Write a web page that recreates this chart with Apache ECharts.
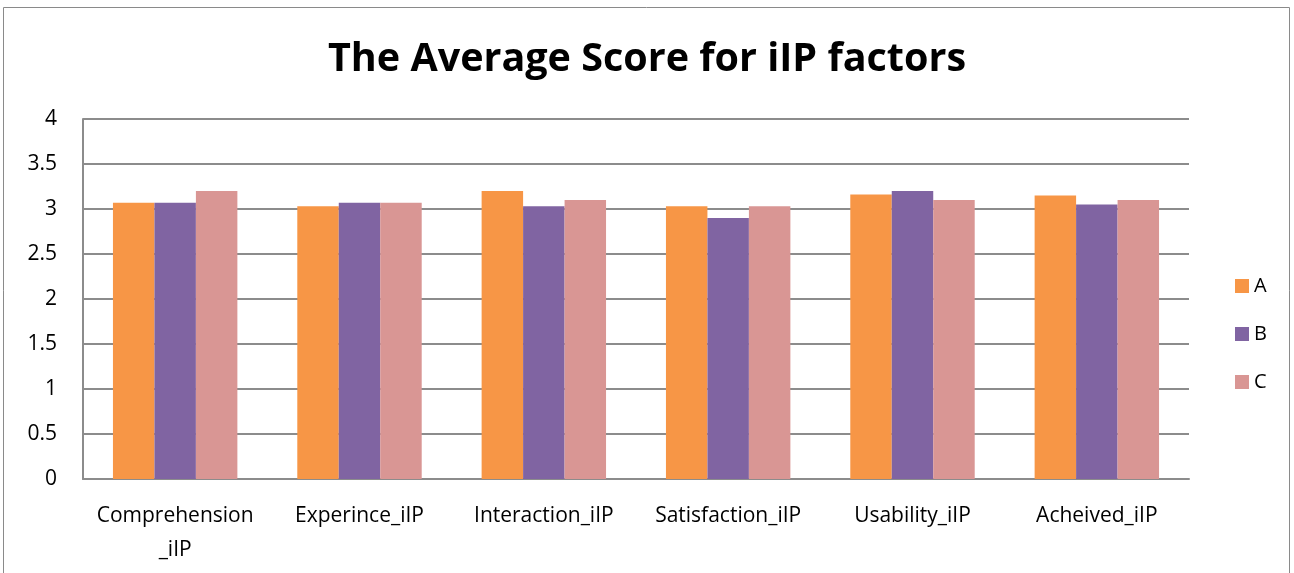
<!DOCTYPE html>
<html>
<head>
<meta charset="utf-8">
<script src="https://cdn.jsdelivr.net/npm/echarts@6/dist/echarts.min.js"></script>
<style>
  html, body { margin: 0; padding: 0; background: #fff; }
  #chart { width: 1294px; height: 573px; }
</style>
</head>
<body>
<div id="chart"></div>
<script>
// Average score per iIP factor for three groups
const categories = ['Comprehension\n_iIP', 'Experince_iIP', 'Interaction_iIP', 'Satisfaction_iIP', 'Usability_iIP', 'Acheived_iIP'];
const seriesA = [3.07, 3.03, 3.2, 3.03, 3.16, 3.15];
const seriesB = [3.07, 3.07, 3.03, 2.9, 3.2, 3.05];
const seriesC = [3.2, 3.07, 3.1, 3.03, 3.1, 3.1];
const yTicks = { min: 0, max: 4, interval: 0.5 };

const font = 'Open Sans, Noto Sans, sans-serif';
const chart = echarts.init(document.getElementById('chart'));

const barSeries = (name, data, color) => ({
  name, type: 'bar', data,
  itemStyle: { color },
  barGap: '0%', barCategoryGap: '32.5%'
});

chart.setOption({
  animation: false,
  backgroundColor: '#fff',
  graphic: [{
    type: 'rect',
    shape: { x: 3.5, y: 7.5, width: 1286, height: 580 },
    style: { fill: 'none', stroke: '#8a8a8a', lineWidth: 1 },
    silent: true
  }],
  title: {
    text: 'The Average Score for iIP factors',
    left: 'center', top: 35,
    textStyle: { fontFamily: font, fontWeight: 'bold', fontSize: 39.5, color: '#000' }
  },
  legend: {
    orient: 'vertical', left: 1230, top: 271,
    itemWidth: 14, itemHeight: 14, itemGap: 28,
    icon: 'rect',
    textStyle: { fontFamily: font, fontSize: 20, color: '#000', padding: [0, 0, 0, 0] },
    data: ['A', 'B', 'C']
  },
  grid: { left: 83, top: 119, width: 1106, height: 360, containLabel: false },
  xAxis: {
    type: 'category', data: categories,
    axisLine: { lineStyle: { color: '#8c8c8c', width: 2 } },
    axisTick: { show: false },
    axisLabel: { fontFamily: font, fontSize: 21, color: '#000', margin: 20, lineHeight: 34, interval: 0 }
  },
  yAxis: {
    type: 'value', min: yTicks.min, max: yTicks.max, interval: yTicks.interval,
    axisLine: { show: true, lineStyle: { color: '#8c8c8c', width: 2 } },
    axisTick: { show: false },
    splitLine: { lineStyle: { color: '#8c8c8c', width: 2 } },
    axisLabel: { fontFamily: font, fontSize: 21, color: '#000', margin: 26 }
  },
  series: [
    barSeries('A', seriesA, '#F79646'),
    barSeries('B', seriesB, '#8064A2'),
    barSeries('C', seriesC, '#D99694')
  ]
});
</script>
</body>
</html>
